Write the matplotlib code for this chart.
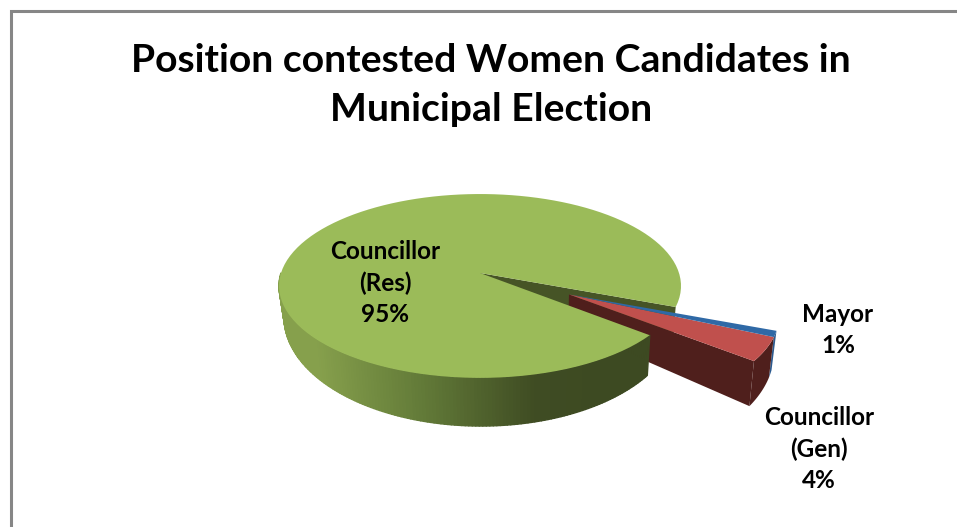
import numpy as np
import matplotlib
matplotlib.use('Agg')
import matplotlib.pyplot as plt
from matplotlib.collections import PolyCollection
from matplotlib.colors import LinearSegmentedColormap
from matplotlib.patches import Polygon

# Chart data
title = 'Position contested Women Candidates in\nMunicipal Election'
names = ['Councillor\n(Res)', 'Councillor\n(Gen)', 'Mayor']
values = [95, 4, 1]

START_ANGLE = -21.0
TOP_COLORS = ['#9bbb59', '#c0504d', '#2f69a6']
SIDE_COLORS = ['#465426', '#4f1f1c', '#2c5a8f']
# the two small slices are pulled out together
EXPLODE = [0.0, 0.49, 0.49]
EXPLODE_ANGLE = np.radians(-28.0)
LABEL_POS = [(385, 283), (819, 449), (838, 330)]

# Rings of the disc in pixel space: centre x, centre y, half width, half height
TOP_RING = (480.0, 273.0, 199.0, 90.1)
BOTTOM_RING = (481.0, 301.6, 195.0, 106.9)
PERSPECTIVE = 0.141


def project(u, v, ring):
    cx, cy, a, b = ring
    d = 1 + PERSPECTIVE * v
    return np.column_stack([cx + a * u / d, cy - b * v / d])


def arc(theta1, theta2, offset, ring, n=120):
    t = np.radians(np.linspace(theta1, theta2, n))
    return project(offset[0] + np.cos(t), offset[1] + np.sin(t), ring)


def apex(offset, ring):
    return project(np.array([offset[0]]), np.array([offset[1]]), ring)


fig = plt.figure(figsize=(9.57, 5.27), dpi=100)
ax = fig.add_axes([0, 0, 1, 1])
ax.set_xlim(0, 957)
ax.set_ylim(527, 0)
ax.axis('off')

# Frame, only the top and left edges are inside the canvas
ax.plot([11, 11, 957], [527, 11, 11], color='#868686', lw=2.2, solid_joinstyle='miter', zorder=1)

ax.text(491, 85, title, ha='center', va='center', fontsize=28.2, fontweight='bold',
        family='Lato', linespacing=1.457, color='black')

edges = START_ANGLE + np.concatenate([[0], np.cumsum(values)]) * 360.0 / sum(values)

for i in range(3):
    theta1, theta2 = edges[i], edges[i + 1]
    offset = (EXPLODE[i] * np.cos(EXPLODE_ANGLE), EXPLODE[i] * np.sin(EXPLODE_ANGLE))
    top_rim = arc(theta1, theta2, offset, TOP_RING)
    bottom_rim = arc(theta1, theta2, offset, BOTTOM_RING)
    top_apex = apex(offset, TOP_RING)
    bottom_apex = apex(offset, BOTTOM_RING)
    wall = np.vstack([top_apex, top_rim[:1], bottom_rim[:1], bottom_apex])
    rim = np.vstack([top_rim, bottom_rim[::-1]])
    top = np.vstack([top_apex, top_rim])

    if i == 0:
        # inner wall seen through the gap, then the curved front with its shading
        ax.add_patch(Polygon(wall, closed=True, fc=SIDE_COLORS[0], ec='none', zorder=2))

        front = arc(180, theta2, offset, TOP_RING, 160)
        front_low = arc(180, theta2, offset, BOTTOM_RING, 160)
        quads = [np.vstack([front[j], front[j + 1], front_low[j + 1], front_low[j]])
                 for j in range(len(front) - 1)]
        shade = LinearSegmentedColormap.from_list(
            'side', [(0.0, '#86a04c'), (0.12, '#86a04c'), (0.45, '#627a38'),
                     (0.8, '#3f4c23'), (1.0, '#3d4a22')])
        xs = np.array([q[:, 0].mean() for q in quads])
        shading = PolyCollection(quads, array=(xs - 280) / 320, cmap=shade, clim=(0, 1),
                                 edgecolors='face', linewidths=1.0, zorder=5)
        ax.add_collection(shading)
        ax.add_patch(Polygon(top, closed=True, fc=TOP_COLORS[0], ec='none', zorder=6))
    else:
        # only the red slice shows its straight wall, blue sits behind it
        if i == 1:
            ax.add_patch(Polygon(wall, closed=True, fc=SIDE_COLORS[i], ec='none', zorder=4))
        ax.add_patch(Polygon(rim, closed=True, fc=SIDE_COLORS[i], ec='none', zorder=5 - i))
        ax.add_patch(Polygon(top, closed=True, fc=TOP_COLORS[i], ec='none', zorder=7))

for name, value, (x, y) in zip(names, values, LABEL_POS):
    ax.text(x, y, '%s\n%d%%' % (name, value), ha='center', va='center', fontsize=17.5,
            fontweight='bold', family='Lato', linespacing=1.43, color='black', zorder=10)

fig.savefig('out.png', dpi=100)
